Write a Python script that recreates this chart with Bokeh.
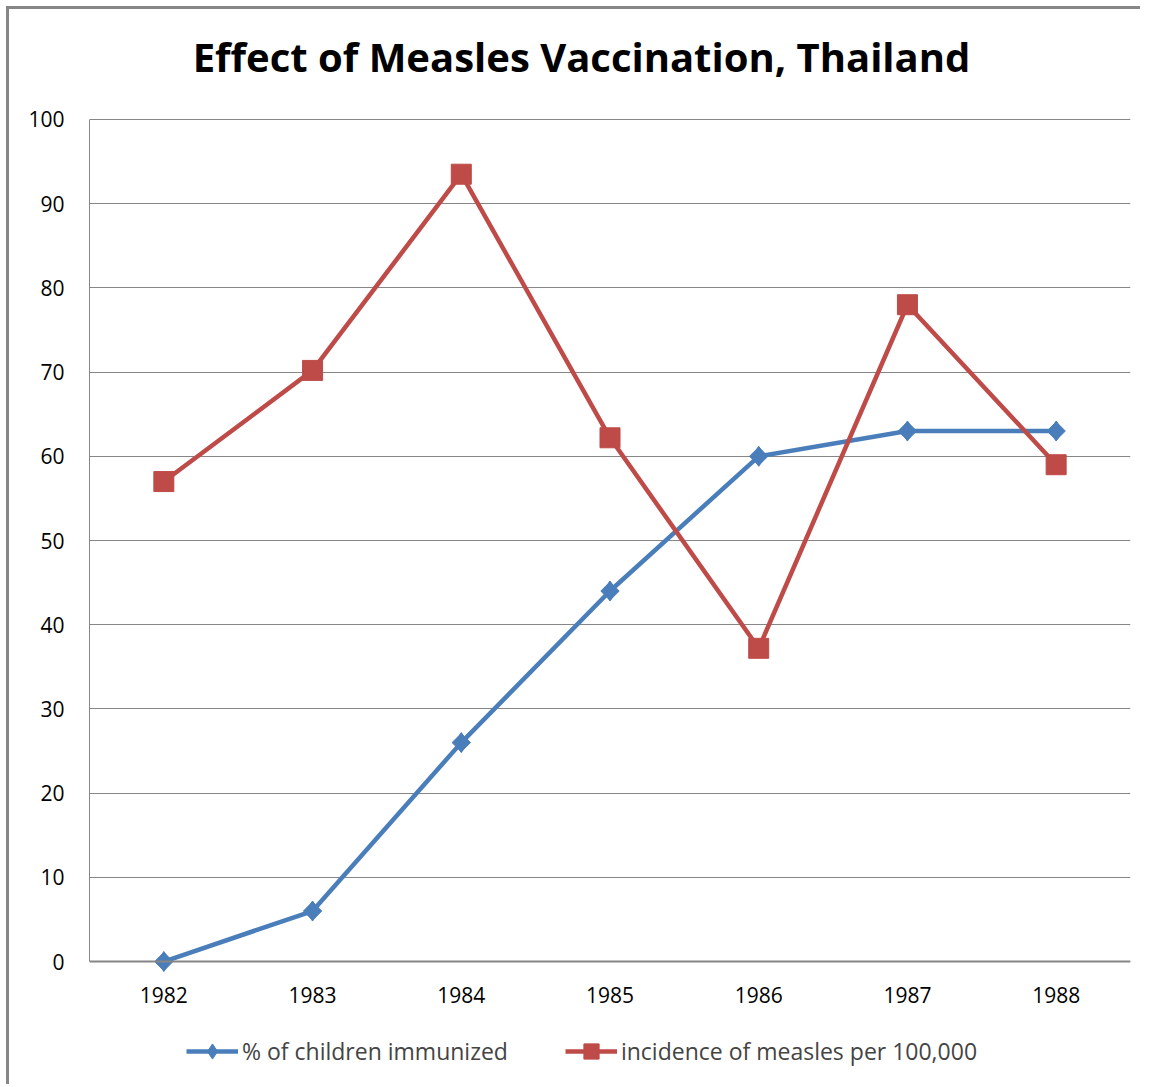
import numpy as np
from bokeh.plotting import figure
from bokeh.models import (Legend, LegendItem, FixedTicker, Range1d, Label,
                          ColumnDataSource)
from bokeh.embed import file_html
from bokeh.resources import INLINE

years = ["1982", "1983", "1984", "1985", "1986", "1987", "1988"]
immunized = [0, 6, 26, 44, 60, 63, 63]
incidence = [57, 70.2, 93.5, 62.2, 37.2, 78, 59]
y_ticks = [0, 10, 20, 30, 40, 50, 60, 70, 80, 90, 100]
title_text = "Effect of Measles Vaccination, Thailand"
label_immunized = "% of children immunized"
label_incidence = "incidence of measles per 100,000"

BLUE = "#4A7EBB"
RED = "#BE4B48"
GRID = "#868686"
FONT = "Open Sans"

# y range extends beyond 0..100 so the frame also holds the title, the
# category labels and the legend; axis/grid are restricted to 0..100
p = figure(x_range=years, y_range=Range1d(-14.6, 113.06),
           frame_width=1041, frame_height=1075, title=None,
           output_backend="svg", toolbar_location=None,
           min_border_left=80, min_border_right=10, min_border_top=0,
           min_border_bottom=0)
p.styles = {"border-top": "3px solid #878787", "border-left": "3px solid #878787",
            "margin-left": "6px", "margin-top": "6px"}
p.outline_line_color = None
p.background_fill_color = "white"
p.border_fill_color = "white"

p.add_layout(Label(text=title_text, x=492, y=1028, x_units="screen",
                   y_units="screen", text_align="center",
                   text_baseline="alphabetic", text_font=FONT,
                   text_font_style="bold", text_font_size="40px",
                   text_color="black"))

p.xgrid.grid_line_color = None
p.ygrid.grid_line_color = GRID
p.ygrid.grid_line_width = 1

p.yaxis.ticker = FixedTicker(ticks=y_ticks)
p.yaxis.bounds = (0, 100)
p.xaxis.fixed_location = 0
for ax in (p.xaxis, p.yaxis):
    ax.axis_line_color = GRID
    ax.major_tick_out = 0
    ax.major_tick_in = 0
    ax.minor_tick_out = 0
    ax.minor_tick_in = 0
    ax.major_label_text_font = FONT
    ax.major_label_text_font_size = "21px"
    ax.major_label_text_color = "black"
p.yaxis.axis_line_width = 1
p.xaxis.axis_line_width = 2
p.yaxis.major_label_standoff = 25
p.xaxis.major_label_standoff = 25

src_imm = ColumnDataSource(dict(x=years, y=immunized))
src_inc = ColumnDataSource(dict(x=years, y=incidence))

l1 = p.line("x", "y", source=src_imm, line_color=BLUE, line_width=4.5)
d1 = p.scatter("x", "y", source=src_imm, marker="diamond", size=20,
               fill_color=BLUE, line_color=BLUE)
s1 = p.scatter("x", "y", source=src_imm, marker="square", angle=np.pi / 4,
               size=13, fill_color=BLUE, line_color=BLUE)
l2 = p.line("x", "y", source=src_inc, line_color=RED, line_width=4.5)
s2 = p.scatter("x", "y", source=src_inc, marker="square", size=20,
               fill_color=RED, line_color=RED)

legend = Legend(items=[LegendItem(label=label_immunized, renderers=[l1, d1]),
                       LegendItem(label=label_incidence, renderers=[l2, s2])],
                orientation="horizontal", location=(97, 14),
                glyph_width=52, glyph_height=38, spacing=57,
                label_text_font=FONT, label_text_font_size="23px",
                label_standoff=4, border_line_color=None, padding=0, margin=0,
                background_fill_alpha=0)
p.add_layout(legend)

open("out.html", "w").write(file_html(p, INLINE))
